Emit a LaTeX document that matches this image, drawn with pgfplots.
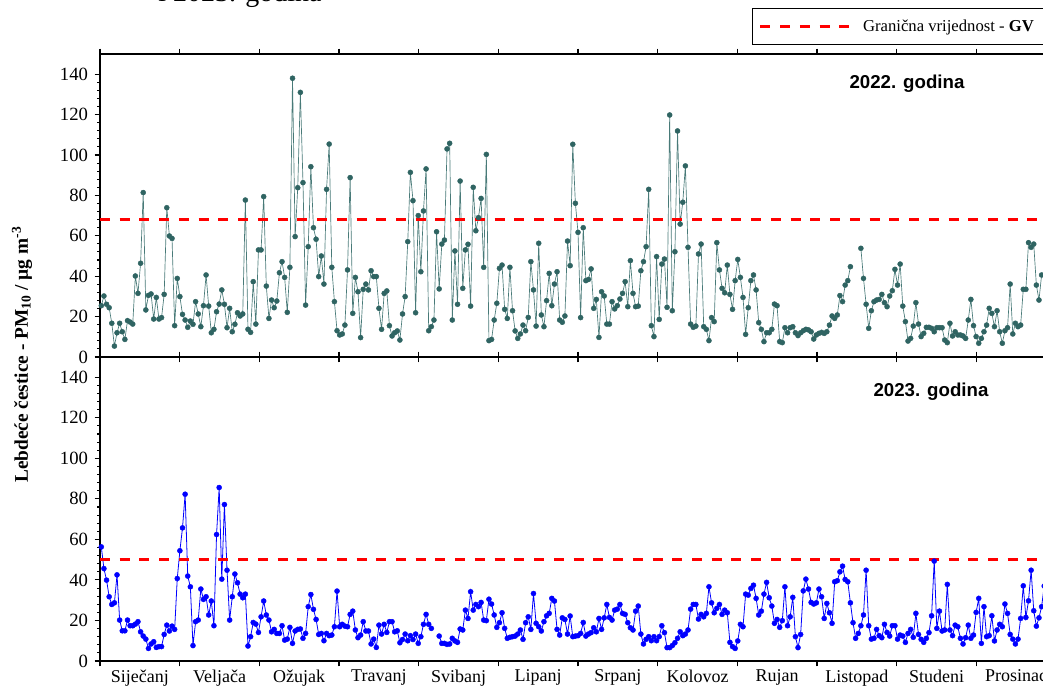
\documentclass[border=0pt]{standalone}
\usepackage{pgfplots}
\pgfplotsset{compat=1.18}
\usepackage{pgfplotstable}
\usepackage{fontspec}
\setmainfont{Liberation Serif}
\newfontfamily\arial{Liberation Sans}

\definecolor{tealmark}{RGB}{47,100,98}
\definecolor{tealline}{RGB}{72,122,120}
\definecolor{gvred}{RGB}{255,0,0}

% dnevne vrijednosti PM10, dan / 2022 / 2023
\pgfplotstableread{
dan g22 g23
1 25.4 56.3
2 30.2 45.6
3 26.1 39.9
4 24.4 31.7
5 16.7 27.9
6 5.4 28.7
7 12.0 42.5
8 16.7 20.2
9 12.5 14.9
10 8.7 14.9
11 18.0 20.2
12 17.3 17.4
13 16.3 17.4
14 40.1 18.2
15 31.5 19.4
16 46.4 14.4
17 81.4 12.3
18 23.3 10.8
19 30.5 6.2
20 31.2 8.4
21 18.8 9.5
22 29.5 6.7
23 18.8 7.1
24 19.5 7.1
25 31.0 13.1
26 73.9 17.7
27 59.9 14.8
28 58.7 17.2
29 15.5 15.6
30 38.9 40.7
31 29.9 54.4
32 21.1 65.7
33 18.3 82.3
34 14.7 41.9
35 17.8 36.6
36 16.2 7.6
37 27.4 19.4
38 21.3 20.2
39 15.0 35.5
40 25.4 30.4
41 40.6 31.7
42 25.2 22.7
43 12.0 29.6
44 13.7 17.4
45 22.4 62.4
46 26.2 85.6
47 33.2 40.4
48 26.1 77.2
49 14.5 44.8
50 24.1 20.2
51 12.5 31.7
52 16.2 42.9
53 21.9 38.6
54 20.3 33.0
55 21.3 31.2
56 77.7 33.0
57 13.7 7.4
58 12.2 12.0
59 37.3 19.0
60 16.3 18.2
61 53.0 14.1
62 53.0 21.8
63 79.4 29.6
64 35.1 22.7
65 19.1 20.2
66 28.2 14.4
67 24.4 15.6
68 27.7 13.6
69 41.7 13.6
70 47.2 17.4
71 39.4 10.3
72 22.1 10.8
73 44.4 16.6
74 138.0 8.7
75 59.6 14.8
76 83.8 15.6
77 131.0 15.8
78 86.3 11.2
79 25.7 13.6
80 54.6 26.8
81 94.2 32.8
82 64.0 25.5
83 58.3 20.5
84 39.8 13.1
85 50.0 13.6
86 36.1 10.0
87 83.0 13.6
88 105.4 12.5
89 44.4 12.8
90 27.4 16.9
91 13.0 34.5
92 10.9 16.9
93 11.4 18.1
94 15.8 17.2
95 43.1 16.9
96 88.8 23.0
97 21.6 24.6
98 39.4 15.3
99 32.3 11.5
100 9.6 12.8
101 33.5 19.4
102 36.1 14.8
103 33.2 14.8
104 42.7 8.4
105 39.8 10.8
106 39.8 6.7
107 24.1 17.7
108 13.7 13.3
109 31.5 18.1
110 32.7 14.1
111 15.5 19.4
112 10.4 19.4
113 12.0 14.4
114 12.9 14.9
115 8.4 9.0
116 21.3 10.6
117 29.9 13.3
118 57.1 10.0
119 91.4 12.5
120 77.4 10.6
121 21.9 13.3
122 70.0 8.7
123 42.2 12.0
124 72.3 18.1
125 93.1 23.0
126 13.0 18.1
127 15.0 16.1
128 18.3 nan
129 62.0 nan
130 33.7 12.3
131 55.9 8.7
132 57.9 8.7
133 103.0 8.2
134 105.8 8.4
135 18.3 11.2
136 52.5 9.9
137 26.1 9.2
138 87.1 15.8
139 34.0 15.3
140 53.0 25.1
141 55.8 21.0
142 25.2 34.2
143 84.0 25.1
144 62.5 27.9
145 69.0 26.8
146 78.5 28.9
147 44.4 20.2
148 100.3 19.9
149 8.1 30.5
150 8.7 28.1
151 18.3 22.7
152 26.6 16.6
153 43.9 18.9
154 45.5 23.8
155 23.6 16.1
156 19.1 11.2
157 44.4 11.7
158 22.9 12.0
159 12.9 12.3
160 9.2 13.3
161 11.4 15.3
162 15.8 10.7
163 13.0 18.9
164 19.6 21.8
165 47.2 15.6
166 33.2 33.3
167 15.3 18.6
168 56.3 16.9
169 20.8 14.8
170 15.0 19.4
171 27.9 22.3
172 41.4 23.5
173 25.4 30.9
174 36.1 29.6
175 42.2 15.6
176 18.3 12.8
177 17.2 21.3
178 20.3 20.5
179 57.4 13.3
180 45.2 22.2
181 105.3 12.0
182 76.1 12.3
183 61.7 12.5
184 19.5 13.6
185 64.0 19.0
186 37.8 12.3
187 38.4 13.3
188 43.6 14.0
189 24.1 16.4
190 28.5 14.4
191 9.7 21.0
192 32.3 15.6
193 30.2 21.3
194 16.3 27.9
195 16.3 21.5
196 27.4 20.2
197 23.8 25.1
198 25.4 25.6
199 28.7 27.9
200 31.5 23.5
201 37.3 23.0
202 24.9 18.9
203 47.7 16.4
204 31.5 15.3
205 24.9 24.6
206 25.2 27.1
207 42.7 13.3
208 47.2 8.4
209 54.6 10.7
210 83.0 12.0
211 15.5 10.0
212 10.1 12.0
213 49.7 10.0
214 18.6 12.0
215 46.0 17.4
216 48.5 14.0
217 24.6 6.6
218 119.8 6.6
219 22.9 7.6
220 52.1 9.0
221 111.9 11.2
222 65.8 14.4
223 76.6 12.5
224 94.6 13.3
225 54.3 15.3
226 16.3 25.6
227 14.7 27.9
228 15.3 27.9
229 51.0 20.7
230 55.9 23.0
231 15.0 21.8
232 13.7 23.5
233 8.1 36.6
234 19.5 28.7
235 17.5 23.8
236 56.6 26.0
237 43.1 27.9
238 34.0 23.0
239 31.8 25.1
240 45.5 23.8
241 31.0 9.2
242 23.6 7.1
243 37.8 6.2
244 48.3 9.9
245 39.4 18.1
246 29.5 16.9
247 11.2 33.0
248 24.4 32.5
249 37.8 35.8
250 40.6 37.4
251 33.2 30.9
252 17.0 22.7
253 13.7 24.6
254 7.6 33.0
255 12.0 38.8
256 12.0 31.2
257 13.7 27.1
258 26.2 18.6
259 25.4 20.5
260 7.6 16.6
261 7.1 19.9
262 14.5 36.6
263 12.0 17.4
264 14.5 21.8
265 15.0 31.4
266 12.0 12.0
267 10.6 6.6
268 12.0 13.1
269 13.0 34.6
270 13.7 40.4
271 13.4 35.5
272 12.5 28.9
273 8.9 28.1
274 10.9 28.7
275 11.7 35.5
276 12.2 31.7
277 11.7 21.0
278 12.5 28.4
279 15.8 23.8
280 20.3 18.6
281 19.1 39.1
282 20.8 39.6
283 30.4 44.0
284 27.4 46.8
285 35.6 40.2
286 37.8 39.1
287 44.7 28.7
288 nan 18.9
289 nan 11.2
290 nan 13.6
291 53.8 17.4
292 38.9 22.7
293 26.1 44.8
294 14.2 17.4
295 22.9 10.8
296 27.4 11.2
297 28.2 15.6
298 28.5 12.5
299 31.0 11.5
300 26.9 18.1
301 24.9 14.1
302 30.2 12.3
303 32.8 17.4
304 43.4 17.4
305 35.6 10.8
306 46.0 12.8
307 25.2 12.3
308 17.5 9.2
309 7.9 13.6
310 9.2 15.6
311 15.3 11.7
312 26.9 23.5
313 16.3 13.1
314 10.1 10.7
315 11.7 9.2
316 14.7 11.2
317 14.7 14.0
318 14.2 22.3
319 12.5 49.3
320 14.5 16.1
321 14.5 24.6
322 14.5 14.8
323 8.4 15.3
324 7.1 37.8
325 16.7 15.3
326 10.4 12.5
327 12.5 17.7
328 10.9 16.9
329 10.9 11.2
330 10.4 8.4
331 9.2 11.5
332 18.3 17.7
333 28.5 11.2
334 15.5 12.8
335 10.1 24.0
336 6.8 30.9
337 9.2 8.7
338 12.5 26.8
339 15.8 12.0
340 24.1 12.5
341 21.6 22.3
342 15.0 9.9
343 22.9 15.3
344 12.5 18.1
345 6.8 16.9
346 13.0 28.1
347 14.5 23.5
348 36.1 13.1
349 11.4 10.8
350 16.7 8.4
351 15.0 10.8
352 15.8 21.0
353 33.5 37.1
354 33.5 21.5
355 56.6 29.7
356 54.3 44.8
357 55.9 24.8
358 35.6 17.2
359 28.2 21.3
360 40.6 26.8
361 nan 37.0
}\pmdata

\pgfplotsset{
  pmaxis/.style={
    scale only axis, width=717pt,
    xmin=0.5, xmax=365.5, ymin=0, ymax=150,
    unbounded coords=jump,
    axis line style={line width=0.9pt},
    every tick/.style={black, line width=0.8pt},
    tick align=outside,
    major tick length=4pt, minor tick length=2pt,
    xtick={0.5,30.917,61.333,91.75,122.167,152.583,183,213.417,243.833,274.25,304.667,335.083,365.5},
    xticklabels={},
    xtick pos=both,
    ytick={0,20,...,140}, minor y tick num=4,
    ytick pos=left,
    yticklabel style={font=\fontsize{14}{16}\selectfont, xshift=-1.5pt},
    /pgf/number format/assume math mode=true,
  },
  gvline/.style={gvred, line width=2pt, dash pattern=on 7.5pt off 7.3pt},
}

\begin{document}
\begin{tikzpicture}

% 2022
\begin{axis}[pmaxis, at={(75pt,248.25pt)}, anchor=south west, height=227.25pt,
  legend style={at={(0.682,1.152)}, anchor=north west, draw=black, line width=0.6pt,
    font=\fontsize{12.5}{14}\selectfont, inner xsep=5pt, inner ysep=6.5pt,
    /tikz/every odd column/.append style={column sep=7pt}},
  legend image code/.code={\draw[#1] (0pt,0pt) -- (67pt,0pt);}]
\addplot[tealline, line width=0.5pt, mark=*, mark size=1.9pt,
  mark options={fill=tealmark, draw=tealmark, line width=0.3pt}, forget plot]
  table[x=dan, y=g22] {\pmdata};
\addplot[gvline] coordinates {(0.5,68) (365.5,68)};
\addlegendentry{Granična vrijednost - \textbf{GV}}
\end{axis}

% 2023
\begin{axis}[pmaxis, at={(75pt,20.25pt)}, anchor=south west, height=228pt,
  extra x ticks={15.71,46.13,76.54,106.96,137.38,167.79,198.21,228.63,259.04,289.46,319.88,350.29},
  extra x tick labels={Siječanj,Veljača,Ožujak,Travanj,Svibanj,Lipanj,Srpanj,Kolovoz,Rujan,Listopad,Studeni,Prosinac},
  extra x tick style={major tick length=0pt,
    tick label style={font=\fontsize{13.5}{15}\selectfont, yshift=-3pt}}]
\addplot[blue, line width=0.6pt, mark=*, mark size=1.9pt,
  mark options={fill=blue, draw=blue, line width=0.3pt}]
  table[x=dan, y=g23] {\pmdata};
\addplot[gvline] coordinates {(0.5,50) (365.5,50)};
\end{axis}

\node[rotate=90, font=\bfseries\fontsize{14.5}{16}\selectfont] at (16.5pt,250pt)
  {Lebdeće čestice - PM\textsubscript{10} / µg m\textsuperscript{-3}};
\node[font=\arial\bfseries\fontsize{14}{16}\selectfont] at (680.25pt,453pt) {2022. godina};
\node[font=\arial\bfseries\fontsize{14}{16}\selectfont] at (698.25pt,222pt) {2023. godina};
\node[anchor=base, font=\fontsize{21}{24}\selectfont] at (180pt,514.5pt) {i 2023. godina};

\pgfresetboundingbox
\path[use as bounding box] (0pt,0pt) rectangle (782.25pt,516pt);
\end{tikzpicture}
\end{document}
